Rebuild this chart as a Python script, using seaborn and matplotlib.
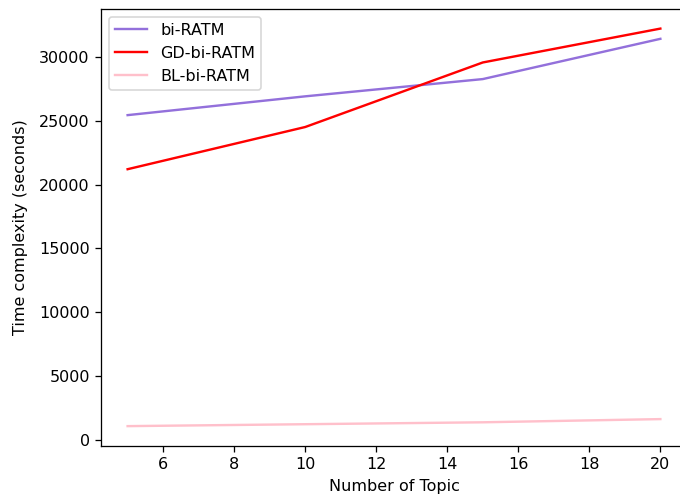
import numpy as np
import pandas as pd
import matplotlib
matplotlib.use('Agg')
import matplotlib.pyplot as plt
import seaborn as sns

# 数据
topics = [5, 10, 15, 20]
bi_ratm = [25430, 26900, 28250, 31400]
gd_bi_ratm = [21200, 24500, 29550, 32200]
bl_bi_ratm = [1100, 1250, 1400, 1650]
series_names = ['bi-RATM', 'GD-bi-RATM', 'BL-bi-RATM']
colors = ['mediumpurple', 'red', 'pink']

df = pd.DataFrame({
    'topic': topics * 3,
    'time': bi_ratm + gd_bi_ratm + bl_bi_ratm,
    'model': [n for n in series_names for _ in topics],
})

dpi = 115
fig, ax = plt.subplots(figsize=(680 / dpi, 498 / dpi), dpi=dpi)
sns.lineplot(data=df, x='topic', y='time', hue='model', hue_order=series_names,
             palette=colors, ax=ax)

ax.set_xlabel('Number of Topic')
ax.set_ylabel('Time complexity (seconds)', labelpad=7)
ax.legend(loc='upper left')

# 图片右侧被裁掉了一点
plt.subplots_adjust(left=0.1485, right=1.0103, top=0.9825, bottom=0.1044)
plt.savefig('out.png', dpi=dpi)
